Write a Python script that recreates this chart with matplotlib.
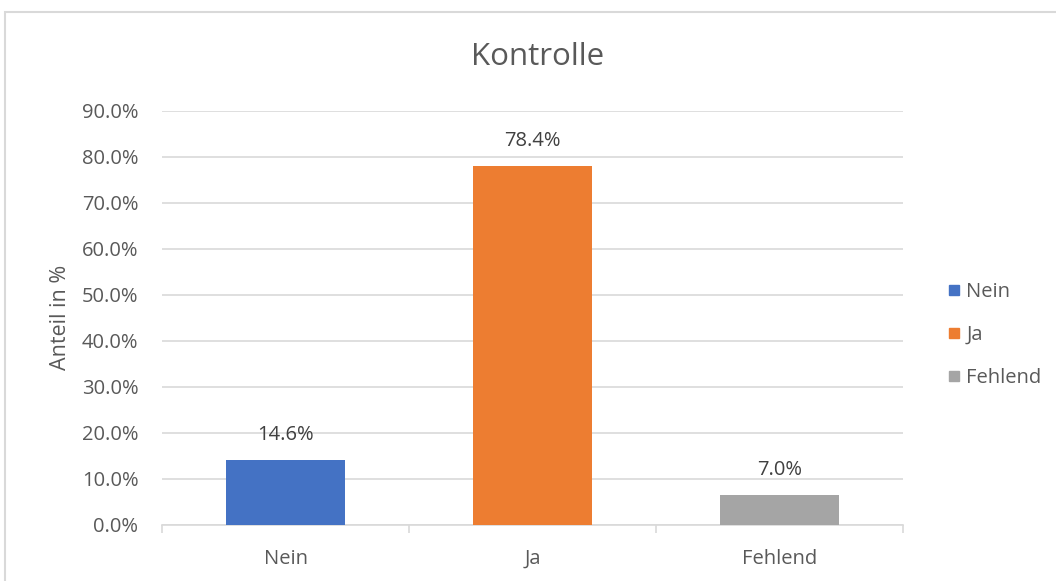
import matplotlib
matplotlib.use('Agg')
import matplotlib.pyplot as plt
from matplotlib.ticker import FuncFormatter
from matplotlib.lines import Line2D

plt.rcParams['font.family'] = ['Open Sans', 'DejaVu Sans']

categories = ['Nein', 'Ja', 'Fehlend']
values = [14.1, 78.0, 6.5]
value_labels = ['14.6%', '78.4%', '7.0%']
colors = ['#4472C4', '#ED7D31', '#A5A5A5']
yticks = [0, 10, 20, 30, 40, 50, 60, 70, 80, 90]

text_col = '#595959'
grid_col = '#D9D9D9'

fig = plt.figure(figsize=(10.56, 5.81), dpi=100)
ax = fig.add_axes([162 / 1056, 56 / 581, 741 / 1056, 414.3 / 581])

x = range(len(categories))
ax.bar(x, values, width=0.485, color=colors, zorder=3)

for i, (v, lab) in enumerate(zip(values, value_labels)):
    ax.annotate(lab, (i, v), xytext=(0, 11), textcoords='offset points',
                ha='center', va='bottom', fontsize=14.5, color='#404040')

ax.set_xlim(-0.5, 2.5)
ax.set_ylim(0, 90)
ax.set_yticks(yticks)
ax.yaxis.set_major_formatter(FuncFormatter(lambda v, p: f'{v:.1f}%'))
ax.set_xticks(list(x))
ax.set_xticklabels(categories)
ax.set_xticks([-0.5, 0.5, 1.5, 2.5], minor=True)

ax.grid(axis='y', color=grid_col, linewidth=1.2, zorder=0)
for s in ['top', 'right', 'left']:
    ax.spines[s].set_visible(False)
ax.spines['bottom'].set_color(grid_col)
ax.spines['bottom'].set_linewidth(1.2)

ax.tick_params(axis='y', length=0, pad=17, labelsize=14.5, labelcolor=text_col)
ax.tick_params(axis='x', which='major', length=0, pad=17, labelsize=14.5, labelcolor=text_col)
ax.tick_params(axis='x', which='minor', length=6, width=1.2, color=grid_col)

ax.set_ylabel('Anteil in %', fontsize=15.5, color=text_col, labelpad=8)
fig.text(538 / 1056, 1 - 57 / 581, 'Kontrolle', ha='center', va='center',
         fontsize=22.5, color=text_col)

handles = [Line2D([], [], marker='s', linestyle='none', markersize=6.5,
                  markerfacecolor=c, markeredgecolor=c) for c in colors]
fig.legend(handles, categories, loc='center left', bbox_to_anchor=(926 / 1056, 1 - 335 / 581),
           frameon=False, fontsize=14.5, labelcolor=text_col, handletextpad=0.1,
           labelspacing=1.15, handlelength=1.0)

border = plt.Rectangle((5 / 1056, -0.05), 1.2, (581 - 12) / 581 + 0.05,
                       transform=fig.transFigure, fill=False, edgecolor='#D9D9D9',
                       linewidth=1.5)
fig.add_artist(border)

fig.savefig('out.png', dpi=100)
